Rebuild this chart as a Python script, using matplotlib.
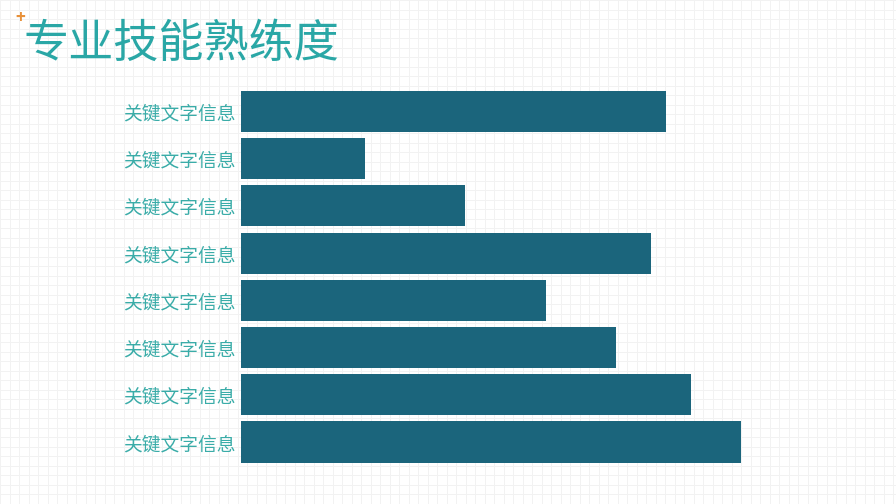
import numpy as np
import matplotlib.pyplot as plt

plt.rcParams['font.family'] = ['Noto Sans CJK SC', 'DejaVu Sans']

# data
labels = ['关键文字信息'] * 8
values = [85, 24.8, 44.8, 82, 61, 75, 90, 100]
title = '专业技能熟练度'

bar_color = '#1b657c'
label_color = '#3aaca8'
title_color = '#2aa7a6'

fig = plt.figure(figsize=(8.96, 5.04), dpi=100)
fig.patch.set_facecolor('white')

# faint grid paper background
bg = fig.add_axes([0, 0, 1, 1], zorder=0)
bg.set_xlim(0, 896)
bg.set_ylim(504, 0)
bg.set_xticks(np.arange(0, 896, 9.5))
bg.set_yticks(np.arange(0, 504, 9.5))
bg.grid(True, color='#f2f2f2', lw=0.7)
bg.tick_params(length=0, labelbottom=False, labelleft=False)
for s in bg.spines.values():
    s.set_visible(False)

# title
bg.text(24, 44, title, fontsize=32.5, color=title_color, va='center', ha='left')
bg.text(20, 18, '+', fontsize=12, color='#e8913a', va='center', ha='center',
        fontweight='bold')

# bars
ax = fig.add_axes([241 / 896, 0.0762, 500 / 896, 0.7494], zorder=1)
ax.patch.set_alpha(0)
y = np.arange(len(values))
ax.barh(y, values, height=0.87, color=bar_color)
ax.set_ylim(len(values) - 0.5, -0.5)
ax.set_xlim(0, 100)
ax.set_yticks(y)
ax.set_yticklabels(labels, fontsize=13.5, color=label_color)
ax.tick_params(axis='y', length=0, pad=4)
ax.tick_params(axis='x', length=0, labelbottom=False)
for s in ax.spines.values():
    s.set_visible(False)

fig.savefig('out.png', dpi=100)
